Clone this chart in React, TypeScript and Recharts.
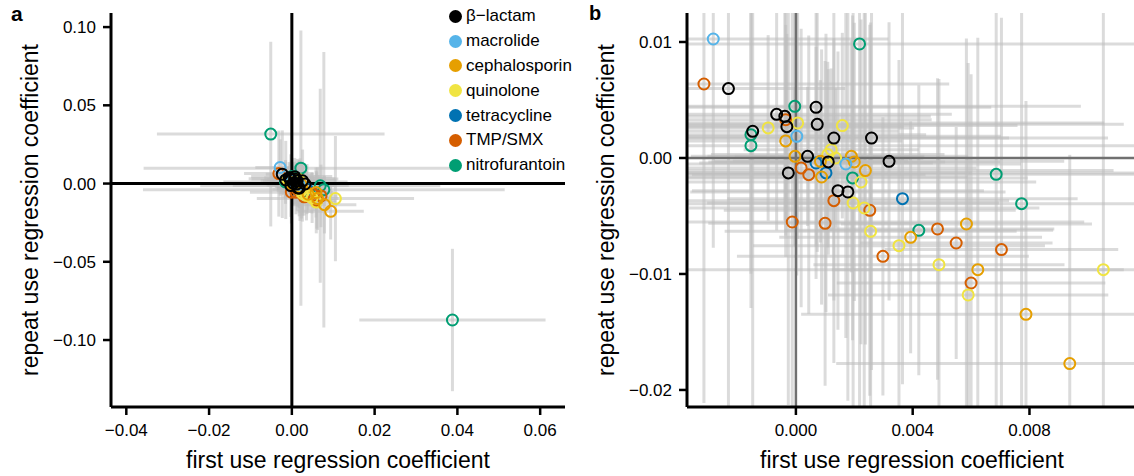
import React from 'react';
import {
  ScatterChart,
  Scatter,
  XAxis,
  YAxis,
  ErrorBar,
  ReferenceLine
} from 'recharts';

// each point: [first use coef, repeat use coef, first use error, repeat use error]
type Pt = [number, number, number, number];

const betaLactam: Pt[] = [
  [-0.00231, 0.00598, 0.004, 0.028],
  [0.00069, 0.00437, 0.006, 0.012],
  [-0.00066, 0.00376, 0.006, 0.01],
  [-0.00038, 0.00359, 0.005, 0.009],
  [0.00073, 0.0029, 0.0105, 0.011],
  [-0.00031, 0.0027, 0.004, 0.008],
  [-0.00148, 0.0023, 0.005, 0.025],
  [0.0013, 0.00172, 0.006, 0.014],
  [0.00259, 0.00172, 0.0081, 0.02],
  [0.0004, 0.00014, 0.004, 0.006],
  [0.00111, -0.00034, 0.004, 0.008],
  [0.00319, -0.00029, 0.006, 0.012],
  [-0.00026, -0.00129, 0.014, 0.02],
  [0.00144, -0.00282, 0.005, 0.012],
  [0.00178, -0.00293, 0.0054, 0.018]
];

const macrolide: Pt[] = [
  [-0.00283, 0.01026, 0.006, 0.018],
  [0.00003, 0.00187, 0.007, 0.012],
  [0.00171, -0.00052, 0.006, 0.015]
];

const cephalosporin: Pt[] = [
  [-0.00035, 0.00147, 0.004, 0.01],
  [-0.00003, 0.00014, 0.003, 0.006],
  [0.00084, -0.00029, 0.003, 0.007],
  [0.0019, 0.00014, 0.004, 0.01],
  [0.002, -0.00034, 0.005, 0.012],
  [0.00088, -0.00164, 0.005, 0.011],
  [0.00238, -0.00109, 0.0085, 0.015],
  [0.00393, -0.00684, 0.0045, 0.01],
  [0.00584, -0.00569, 0.0043, 0.016],
  [0.00623, -0.00963, 0.005, 0.02],
  [0.00788, -0.01348, 0.0077, 0.0184],
  [0.00938, -0.01773, 0.008, 0.018]
];

const quinolone: Pt[] = [
  [0.00006, 0.00302, 0.0105, 0.01],
  [0.00159, 0.00279, 0.006, 0.008],
  [-0.00095, 0.00259, 0.005, 0.008],
  [0.00121, 0.00072, 0.003, 0.007],
  [0.00109, 0.00029, 0.004, 0.008],
  [0.00136, 0.0, 0.003, 0.006],
  [0.00223, -0.00207, 0.006, 0.014],
  [0.00196, -0.00388, 0.005, 0.02],
  [0.00234, -0.00431, 0.006, 0.018],
  [0.00256, -0.00632, 0.005, 0.018],
  [0.00353, -0.00756, 0.005, 0.016],
  [0.0049, -0.0092, 0.0043, 0.016],
  [0.0059, -0.01181, 0.0048, 0.02],
  [0.01053, -0.00963, 0.019, 0.04]
];

const tetracycline: Pt[] = [
  [0.00069, -0.00043, 0.004, 0.01],
  [0.00103, -0.00129, 0.005, 0.012],
  [0.00365, -0.00351, 0.006, 0.016]
];

const tmpSmx: Pt[] = [
  [-0.00315, 0.00638, 0.0084, 0.0275],
  [-0.00035, 0.0033, 0.005, 0.01],
  [0.00018, -0.00086, 0.006, 0.012],
  [0.00044, -0.00144, 0.004, 0.012],
  [0.0013, -0.00368, 0.006, 0.014],
  [0.00253, -0.00451, 0.005, 0.016],
  [-0.000125, -0.00552, 0.01, 0.02],
  [0.001, -0.00563, 0.004, 0.014],
  [0.00298, -0.00848, 0.005, 0.012],
  [0.00485, -0.00612, 0.004, 0.013],
  [0.00549, -0.00733, 0.0033, 0.01],
  [0.00704, -0.0079, 0.004, 0.02],
  [0.006, -0.01078, 0.0046, 0.018]
];

const nitrofurantoin: Pt[] = [
  [-0.0051, 0.0316, 0.0275, 0.059],
  [0.00218, 0.00983, 0.038, 0.088],
  [-0.00004, 0.00445, 0.0098, 0.012],
  [-0.00154, 0.00201, 0.006, 0.012],
  [-0.00154, 0.00106, 0.015, 0.014],
  [0.00194, -0.00172, 0.006, 0.014],
  [0.00421, -0.00624, 0.0046, 0.0125],
  [0.00686, -0.00141, 0.029, 0.062],
  [0.00773, -0.00394, 0.0437, 0.088],
  [0.0388, -0.0872, 0.0225, 0.0455]
];

const CLASSES = [
  { name: 'β−lactam', color: '#000000', points: betaLactam },
  { name: 'macrolide', color: '#56B4E9', points: macrolide },
  { name: 'cephalosporin', color: '#E69F00', points: cephalosporin },
  { name: 'quinolone', color: '#F0E442', points: quinolone },
  { name: 'tetracycline', color: '#0072B2', points: tetracycline },
  { name: 'TMP/SMX', color: '#D55E00', points: tmpSmx },
  { name: 'nitrofurantoin', color: '#009E73', points: nitrofurantoin }
];

const aXTicks = [-0.04, -0.02, 0, 0.02, 0.04, 0.06];
const aYTicks = [-0.1, -0.05, 0, 0.05, 0.1];
const bXTicks = [0, 0.004, 0.008];
const bYTicks = [-0.02, -0.01, 0, 0.01];

const FONT = '"Liberation Sans", Arial, Helvetica, sans-serif';

type Dom = [number, number];

// keep points inside the panel and cut error bars at the panel edges
const toRows = (pts: Pt[], xd: Dom, yd: Dom) =>
  pts
    .filter(([x, y]) => x >= xd[0] && x <= xd[1] && y >= yd[0] && y <= yd[1])
    .map(([x, y, ex, ey]) => ({
      x,
      y,
      ex: [Math.min(ex, x - xd[0]), Math.min(ex, xd[1] - x)],
      ey: [Math.min(ey, y - yd[0]), Math.min(ey, yd[1] - y)]
    }));

const fmt = (digits: number) => (v: number) =>
  (v < 0 ? '\u2212' : '') + Math.abs(v).toFixed(digits);

const ring = (color: string) => (props: any) => (
  <circle cx={props.cx} cy={props.cy} r={5.5} fill="none" stroke={color} strokeWidth={2} />
);

const drawOrder = [6, 5, 4, 3, 2, 1, 0];

interface PanelProps {
  width: number;
  xDomain: Dom;
  yDomain: Dom;
  xTicks: number[];
  yTicks: number[];
  xDigits: number;
  yDigits: number;
  yAxisWidth: number;
  right: number;
  zeroColor: string;
  zeroWidth: number;
}

const Panel: React.FC<PanelProps> = ({
  width, xDomain, yDomain, xTicks, yTicks, xDigits, yDigits, yAxisWidth, right, zeroColor, zeroWidth
}) => {
  const allRows = CLASSES.flatMap(c => toRows(c.points, xDomain, yDomain));
  return (
    <ScatterChart width={width} height={476} margin={{ top: 13, right, bottom: 39, left: 0 }}>
      <XAxis
        type="number"
        dataKey="x"
        domain={xDomain}
        allowDataOverflow
        ticks={xTicks}
        interval={0}
        tickFormatter={fmt(xDigits)}
        height={30}
        tickSize={8}
        tickMargin={9}
        axisLine={{ stroke: '#000', strokeWidth: 3 }}
        tickLine={{ stroke: '#000', strokeWidth: 2.5 }}
        tick={{ fill: '#000', fontSize: 17 }}
      />
      <YAxis
        type="number"
        dataKey="y"
        domain={yDomain}
        allowDataOverflow
        ticks={yTicks}
        interval={0}
        tickFormatter={fmt(yDigits)}
        width={yAxisWidth}
        tickSize={8}
        tickMargin={7}
        axisLine={{ stroke: '#000', strokeWidth: 3 }}
        tickLine={{ stroke: '#000', strokeWidth: 2.5 }}
        tick={{ fill: '#000', fontSize: 17 }}
      />
      <Scatter data={allRows} shape={() => <g />} isAnimationActive={false}>
        <ErrorBar dataKey="ex" direction="x" width={0} stroke="#bdbdbd" strokeOpacity={0.55} strokeWidth={3} />
        <ErrorBar dataKey="ey" direction="y" width={0} stroke="#bdbdbd" strokeOpacity={0.55} strokeWidth={3} />
      </Scatter>
      <ReferenceLine x={0} stroke={zeroColor} strokeWidth={zeroWidth} />
      <ReferenceLine y={0} stroke={zeroColor} strokeWidth={zeroWidth} />
      {drawOrder.map(i => (
        <Scatter
          key={CLASSES[i].name}
          name={CLASSES[i].name}
          data={toRows(CLASSES[i].points, xDomain, yDomain)}
          shape={ring(CLASSES[i].color)}
          isAnimationActive={false}
        />
      ))}
    </ScatterChart>
  );
};

const abs = (left: number, top: number, extra: React.CSSProperties = {}): React.CSSProperties => ({
  position: 'absolute',
  left,
  top,
  ...extra
});

const title: React.CSSProperties = { fontSize: 23, whiteSpace: 'nowrap', lineHeight: '26px' };

export default function App() {
  return (
    <div style={{ position: 'absolute', left: 0, top: 0, width: 1134, height: 476, background: '#fff', fontFamily: FONT, color: '#000', overflow: 'hidden' }}>
      <div style={abs(0, 0)}>
        <Panel
          width={570}
          xDomain={[-0.0437, 0.066]}
          yDomain={[-0.1428, 0.109]}
          xTicks={aXTicks}
          yTicks={aYTicks}
          xDigits={2}
          yDigits={2}
          yAxisWidth={111}
          right={5}
          zeroColor="#000"
          zeroWidth={3}
        />
      </div>
      <div style={abs(570, 0)}>
        <Panel
          width={564}
          xDomain={[-0.00373, 0.01158]}
          yDomain={[-0.02147, 0.0125]}
          xTicks={bXTicks}
          yTicks={bYTicks}
          xDigits={3}
          yDigits={2}
          yAxisWidth={117}
          right={0}
          zeroColor="#707070"
          zeroWidth={2.5}
        />
      </div>

      {/* legend */}
      <div style={abs(449, 4)}>
        {CLASSES.map(c => (
          <div key={c.name} style={{ display: 'flex', alignItems: 'center', height: 24.8 }}>
            <span style={{ width: 13, height: 13, borderRadius: 7, background: c.color, display: 'inline-block', marginRight: 4 }} />
            <span style={{ fontSize: 17, whiteSpace: 'nowrap' }}>{c.name}</span>
          </div>
        ))}
      </div>

      {/* panel letters and axis titles */}
      <div style={abs(11, 2, { fontSize: 21, fontWeight: 'bold' })}>a</div>
      <div style={abs(589, 2, { fontSize: 20, fontWeight: 'bold' })}>b</div>
      <div style={abs(338, 460, { ...title, transform: 'translate(-50%, -50%)' })}>first use regression coefficient</div>
      <div style={abs(912, 460, { ...title, transform: 'translate(-50%, -50%)' })}>first use regression coefficient</div>
      <div style={abs(30, 210, { ...title, transform: 'translate(-50%, -50%) rotate(-90deg)' })}>repeat use regression coefficient</div>
      <div style={abs(606, 210, { ...title, transform: 'translate(-50%, -50%) rotate(-90deg)' })}>repeat use regression coefficient</div>
    </div>
  );
}
